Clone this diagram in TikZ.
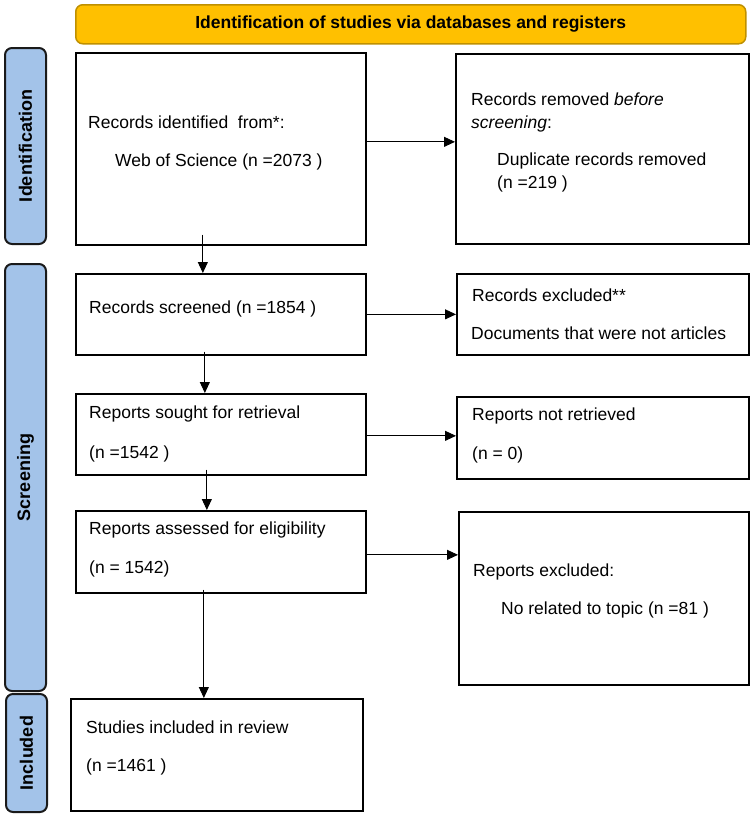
\documentclass[tikz,border=0pt]{standalone}
\usepackage{fontspec}
\setmainfont{Liberation Sans}
\usetikzlibrary{arrows.meta,calc}
\definecolor{bannerfill}{HTML}{FFC000}
\definecolor{bannerline}{HTML}{BF9000}
\definecolor{sidefill}{HTML}{A3C3E9}
\definecolor{sideline}{HTML}{1A1A1A}
\begin{document}
\begin{tikzpicture}[x=1pt,y=-1pt,
  box/.style={draw=black, line width=1.7pt, fill=white, inner sep=0pt, anchor=north west},
  sidebar/.style={draw=sideline, line width=2pt, fill=sidefill, rounded corners=7pt, inner sep=0pt, anchor=north west},
  banner/.style={draw=bannerline, line width=1.5pt, fill=bannerfill, rounded corners=7pt, inner sep=0pt, anchor=north west},
  txt/.style={anchor=base west, inner sep=0pt, font=\fontsize{17.5}{20}\selectfont},
  sidetxt/.style={rotate=90, inner sep=0pt, font=\bfseries\fontsize{18}{20}\selectfont},
  bantxt/.style={inner sep=0pt, font=\bfseries\fontsize{17.5}{20}\selectfont},
  arr/.style={-{Triangle[length=11pt,width=10pt]}, line width=0.9pt, draw=black}
]
\useasboundingbox (0,0) rectangle (750,814);

% banner
\node[banner, minimum width=670pt, minimum height=39pt] (BAN) at (75,4) {};
\node[bantxt] (BANT) at (BAN.center) {Identification of studies via databases and registers};

% side bars
\node[sidebar, minimum width=41pt, minimum height=196pt] (SID) at (4,47) {};
\node[sidetxt] (SIDT) at (SID.center) {Identification};
\node[sidebar, minimum width=41pt, minimum height=427pt] (SSC) at (4,263) {};
\node[sidetxt] (SSCT) at (SSC.center) {Screening};
\node[sidebar, minimum width=41pt, minimum height=118pt] (SIN) at (5,693) {};
\node[sidetxt] (SINT) at (SIN.center) {Included};

% boxes
\node[box, minimum width=290pt, minimum height=192pt] (B1) at (75,52) {};
\node[box, minimum width=293pt, minimum height=190pt] (B2) at (455,53) {};
\node[box, minimum width=290pt, minimum height=81pt] (S) at (75,273) {};
\node[box, minimum width=292pt, minimum height=81pt] (E) at (456,273) {};
\node[box, minimum width=290pt, minimum height=81pt] (R) at (75,393) {};
\node[box, minimum width=292pt, minimum height=82pt] (N) at (456,396) {};
\node[box, minimum width=290pt, minimum height=82pt] (A) at (75,510) {};
\node[box, minimum width=290pt, minimum height=173pt] (X) at (458,511) {};
\node[box, minimum width=292pt, minimum height=112pt] (I) at (70,698) {};

% texts
\node[txt] (t1) at (88,128) {Records identified\ \ from*:};
\node[txt] (t2) at (115,166) {Web of Science (n =2073 )};
\node[txt] (t3) at (471,105) {Records removed \emph{before}};
\node[txt] (t4) at (471,128) {\emph{screening}:};
\node[txt] (t5) at (497,165) {Duplicate records removed};
\node[txt] (t6) at (497,188) {(n =219 )};
\node[txt] (t7) at (89,313) {Records screened (n =1854 )};
\node[txt] (t8) at (472,301) {Records excluded**};
\node[txt] (t9) at (471,339) {Documents that were not articles};
\node[txt] (t10) at (89,418) {Reports sought for retrieval};
\node[txt] (t11) at (89,458) {(n =1542 )};
\node[txt] (t12) at (472,420) {Reports not retrieved};
\node[txt] (t13) at (472,459) {(n = 0)};
\node[txt] (t14) at (89,534) {Reports assessed\ for eligibility};
\node[txt] (t15) at (89,573) {(n = 1542)};
\node[txt] (t16) at (473,576) {Reports excluded:};
\node[txt] (t17) at (501,614) {No related to topic (n =81 )};
\node[txt] (t18) at (86,733) {Studies included in review};
\node[txt] (t19) at (86,771) {(n =1461 )};

% horizontal connectors
\draw[arr] ([yshift=7pt]B1.east) -- ([yshift=7pt]B1.east -| B2.west);
\draw[arr] (S.east) -- (S.east -| E.west);
\draw[arr] ([yshift=-1.5pt]R.east) -- ([yshift=-1.5pt]R.east -| N.west);
\draw[arr] ([yshift=-3pt]A.east) -- ([yshift=-3pt]A.east -| X.west);

% vertical connectors
\draw[arr] ([xshift=-18pt,yshift=11pt]B1.south) -- ([xshift=-18pt]B1.south |- S.north);
\draw[arr] ([xshift=-16pt,yshift=4pt]S.south) -- ([xshift=-16pt]S.south |- R.north);
\draw[arr] ([xshift=-14pt,yshift=6pt]R.south) -- ([xshift=-14pt]R.south |- A.north);
\draw[arr] ([xshift=-17pt,yshift=4pt]A.south) -- ([xshift=-17pt]A.south |- I.north);
\end{tikzpicture}
\end{document}
